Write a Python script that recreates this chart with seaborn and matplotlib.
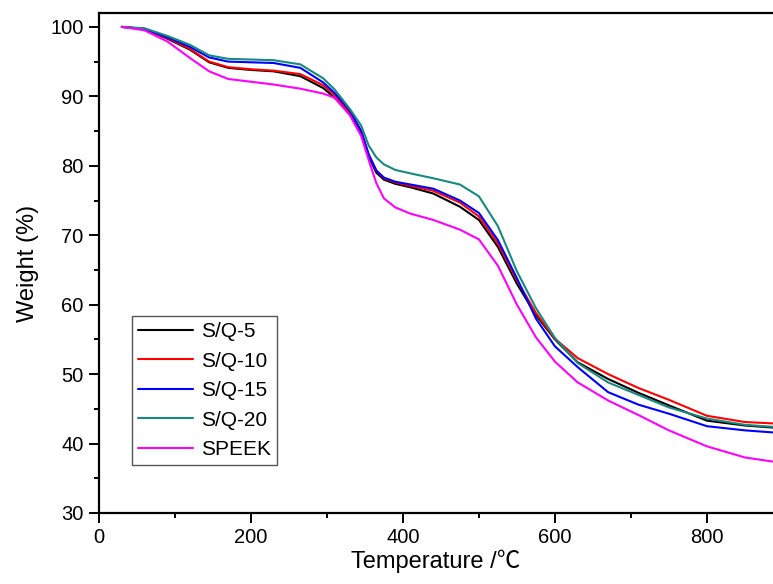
import numpy as np
import pandas as pd
import matplotlib
matplotlib.use("Agg")
import matplotlib.pyplot as plt
from matplotlib.ticker import MultipleLocator
import seaborn as sns

# temperature grid (degC)
temperature = [30, 60, 90, 120, 145, 170, 200, 230, 265, 295, 310, 330, 345, 355, 365, 375,
               390, 410, 440, 475, 500, 525, 550, 575, 600, 630, 670, 710, 750, 800, 850, 887]

# weight (%) for each sample
sq5 = [100, 99.7, 98.3, 96.7, 94.9, 94.1, 93.8, 93.6, 92.9, 91.2, 89.8, 87.6, 84.8, 81.3, 79.0, 78.0,
       77.4, 76.9, 76.0, 74.1, 72.2, 68.3, 63.0, 58.5, 55.0, 51.7, 49.3, 47.3, 45.5, 43.3, 42.6, 42.3]
sq10 = [100, 99.7, 98.4, 96.8, 95.0, 94.2, 93.9, 93.7, 93.2, 91.6, 90.2, 87.8, 85.0, 81.6, 79.3, 78.2,
        77.6, 77.1, 76.4, 74.7, 72.7, 68.8, 63.5, 58.8, 55.1, 52.3, 50.0, 48.0, 46.3, 44.0, 43.1, 42.9]
sq15 = [100, 99.7, 98.5, 97.1, 95.6, 95.0, 94.9, 94.8, 94.1, 92.0, 90.5, 88.0, 85.0, 81.6, 79.3, 78.3,
        77.7, 77.3, 76.7, 75.0, 73.2, 69.3, 63.8, 58.0, 54.0, 51.0, 47.4, 45.6, 44.3, 42.5, 41.9, 41.6]
sq20 = [100, 99.8, 98.7, 97.4, 95.9, 95.4, 95.3, 95.2, 94.6, 92.6, 91.0, 88.2, 85.8, 82.9, 81.2, 80.2,
        79.4, 78.9, 78.2, 77.3, 75.6, 71.3, 64.8, 59.5, 55.2, 51.6, 48.8, 47.0, 45.2, 43.6, 42.7, 42.4]
speek = [100, 99.5, 97.9, 95.5, 93.6, 92.5, 92.1, 91.7, 91.1, 90.4, 89.8, 87.3, 84.3, 80.8, 77.5, 75.3,
         74.0, 73.1, 72.2, 70.8, 69.4, 65.6, 60.0, 55.3, 51.8, 48.8, 46.2, 44.1, 41.9, 39.6, 38.0, 37.4]

labels = ["S/Q-5", "S/Q-10", "S/Q-15", "S/Q-20", "SPEEK"]
colors = ["#000000", "#ff0000", "#0000ff", "#168a80", "#ff00ff"]

rows = []
for name, ys in zip(labels, [sq5, sq10, sq15, sq20, speek]):
    for t, w in zip(temperature, ys):
        rows.append({"T": t, "W": w, "sample": name})
df = pd.DataFrame(rows)

sns.set_style("ticks")
plt.rcParams["font.family"] = ["Liberation Sans", "Noto Sans CJK SC", "DejaVu Sans"]
plt.rcParams["text.color"] = "black"
plt.rcParams["axes.labelcolor"] = "black"
plt.rcParams["xtick.color"] = "black"
plt.rcParams["ytick.color"] = "black"
plt.rcParams["axes.edgecolor"] = "black"

fig = plt.figure(figsize=(7.73, 5.84), dpi=100)
ax = fig.add_axes([99 / 773, 1 - 513 / 584, 1 - 99 / 773, (513 - 13) / 584])

sns.lineplot(data=df, x="T", y="W", hue="sample", hue_order=labels,
             palette=dict(zip(labels, colors)), sort=False, estimator=None,
             linewidth=1.5, ax=ax)

ax.set_xlim(0, 887)
ax.set_ylim(30, 102)
ax.xaxis.set_major_locator(MultipleLocator(200))
ax.xaxis.set_minor_locator(MultipleLocator(100))
ax.yaxis.set_major_locator(MultipleLocator(10))
ax.yaxis.set_minor_locator(MultipleLocator(5))
ax.tick_params(which="major", direction="out", length=7, width=1.4, labelsize=14.5, pad=4)
ax.tick_params(which="minor", direction="out", length=3.5, width=1.4)
for side in ["left", "bottom", "top"]:
    ax.spines[side].set_linewidth(1.6)
    ax.spines[side].set_visible(True)
ax.spines["right"].set_visible(False)

ax.set_xlabel("Temperature /℃", fontsize=17, labelpad=2)
ax.set_ylabel("Weight (%)", fontsize=17, labelpad=8)

leg = ax.legend(loc="upper left", bbox_to_anchor=(132 / 773, 1 - 316 / 584),
                bbox_transform=fig.transFigure, borderaxespad=0, fontsize=15,
                frameon=True, fancybox=False, framealpha=1, edgecolor="#555555",
                handlelength=2.65, handletextpad=0.35, labelspacing=0.5,
                borderpad=0.3, title=None)
leg.get_frame().set_linewidth(1.0)

fig.savefig("out.png", dpi=100)
